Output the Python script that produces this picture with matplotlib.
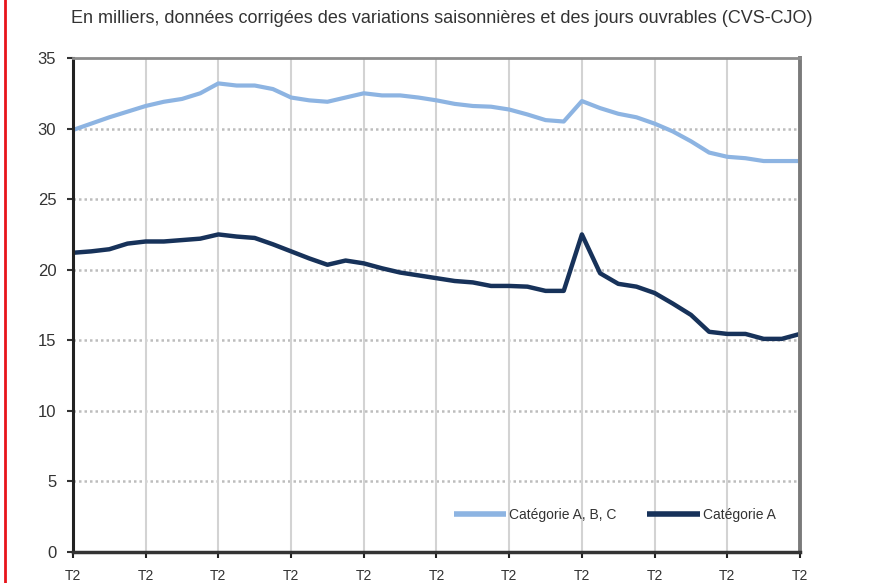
import numpy as np
import matplotlib
matplotlib.use("Agg")
from matplotlib import pyplot as plt
from matplotlib.lines import Line2D

# Données trimestrielles (T2 à T2, 10 ans), en milliers, CVS-CJO
cat_abc = [29.9, 30.35, 30.8, 31.2, 31.6, 31.9, 32.1, 32.5, 33.2, 33.05,
           33.05, 32.8, 32.2, 32.0, 31.9, 32.2, 32.5, 32.35, 32.35, 32.2,
           32.0, 31.75, 31.6, 31.55, 31.35, 31.0, 30.6, 30.5, 31.95, 31.45,
           31.05, 30.8, 30.35, 29.8, 29.1, 28.3, 28.0, 27.9, 27.7, 27.7, 27.7]
cat_a = [21.2, 21.3, 21.45, 21.85, 22.0, 22.0, 22.1, 22.2, 22.5, 22.35,
         22.25, 21.8, 21.3, 20.8, 20.35, 20.65, 20.45, 20.1, 19.8, 19.6,
         19.4, 19.2, 19.1, 18.85, 18.85, 18.8, 18.5, 18.5, 22.5, 19.75,
         19.0, 18.8, 18.35, 17.6, 16.8, 15.6, 15.45, 15.45, 15.1, 15.1, 15.45]
tick_labels = ['T2'] * 11
legend_labels = ['Catégorie A, B, C', 'Catégorie A']

plt.rcParams['font.family'] = ['Liberation Sans', 'DejaVu Sans']

fig = plt.figure(figsize=(8.75, 5.83), dpi=100)
ax = fig.add_axes([0.0834, 0.0532, 0.8309, 0.8473])

x = np.arange(len(cat_abc))
ax.plot(x, cat_abc, color='#8DB4E2', lw=3, solid_capstyle='butt', label=legend_labels[0])
ax.plot(x, cat_a, color='#17325A', lw=3.2, solid_capstyle='butt', label=legend_labels[1])

ax.set_xlim(0, 40)
ax.set_ylim(0, 35)
ax.set_yticks(np.arange(0, 36, 5))
ax.set_xticks(np.arange(0, 41, 4))
ax.set_xticklabels(tick_labels)

# grilles
for yv in range(5, 35, 5):
    ax.axhline(yv, color='#BDBDBD', lw=1.8, ls=(0, (1, 1.2)), zorder=0)
for xv in range(4, 40, 4):
    ax.axvline(xv, color='#D3D3D3', lw=1.5, zorder=0)

ax.spines['left'].set_color('#222222')
ax.spines['left'].set_linewidth(2.2)
ax.spines['bottom'].set_color('#333333')
ax.spines['bottom'].set_linewidth(2.5)
ax.spines['top'].set_color('#8C8C8C')
ax.spines['top'].set_linewidth(2)
ax.spines['right'].set_color('#7A7A7A')
ax.spines['right'].set_linewidth(2.8)

ax.tick_params(axis='y', length=4, width=1.5, color='#333333', pad=8,
               labelsize=12, labelcolor='#333333')
ax.tick_params(axis='x', length=4, width=1.5, color='#222222', pad=8,
               labelsize=10, labelcolor='#333333')

leg = ax.legend(loc='center', bbox_to_anchor=(0.745, 0.075), ncol=2, frameon=False,
                handlelength=3.8, handletextpad=0.2, columnspacing=2.2,
                fontsize=10, labelcolor='#333333')
for h in leg.get_lines():
    h.set_linewidth(4)

fig.text(0.505, 0.968, 'En milliers, données corrigées des variations saisonnières et des jours ouvrables (CVS-CJO)',
         ha='center', va='center', fontsize=13, color='#333333')

# bordure rouge à gauche
fig.add_artist(Line2D([0.0057, 0.0057], [0, 1], color='#E8141B', lw=2, transform=fig.transFigure))

fig.savefig('out.png', dpi=100)
